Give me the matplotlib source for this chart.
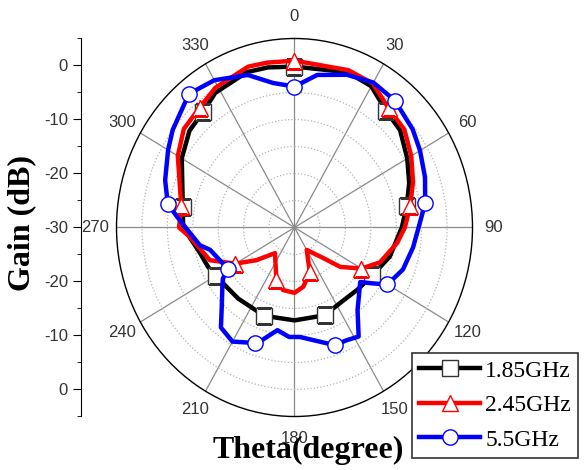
import numpy as np
import matplotlib
matplotlib.use('Agg')
import matplotlib.pyplot as plt
from matplotlib.ticker import FixedLocator

# angle (deg, clockwise from top) and gain (dB)
theta_185 = [0, 20, 30, 40, 49, 60, 70, 80, 90, 106, 120, 133, 147, 160, 180, 200, 220,
             240, 247, 256, 270, 280, 300, 311, 320, 328, 342, 350]
gain_185 = [-0.2, 0.6, 0.2, -1.9, -2.5, -4.4, -6.0, -7.6, -8.9, -10.5, -12.3, -13.1, -13.4,
            -12.7, -12.8, -12.6, -12.8, -12.1, -11.5, -10.8, -8.1, -7.7, -4.4, -2.65, -2.05,
            -0.6, 0.26, 0.1]

theta_245 = [0, 20, 30, 40, 50, 60, 70, 80, 90, 98, 111, 120, 129, 135, 150, 160, 171, 180,
             191, 200, 219, 231, 240, 250, 265, 270, 280, 300, 310, 320, 329, 343, 350]
gain_245 = [0.9, 1.0, 0.8, -1.2, -1.8, -3.5, -5.2, -6.9, -8.3, -9.6, -12.0, -14.8, -18.4,
            -22.0, -25.2, -21.2, -18.9, -17.9, -18.2, -19.6, -23.9, -20.4, -16.6, -12.3,
            -9.4, -7.3, -7.4, -3.5, -1.6, -1.0, 0.2, 1.15, 1.0]

theta_55 = [0, 9, 20, 30, 40, 52, 60, 70, 80, 90, 99, 110, 120, 124, 128, 141, 148, 154, 160,
            177, 183, 190, 197, 200, 210, 218, 224, 232, 236, 240, 256, 260, 269, 275, 280,
            289, 300, 307, 320, 330, 342, 351]
gain_55 = [-3.9, -1.4, 0.1, 1.0, 0.7, -0.5, -1.5, -2.7, -3.9, -5.6, -6.4, -7.3, -8.9, -11.5,
           -13.6, -10.3, -6.2, -6.75, -6.8, -9.7, -9.7, -10.7, -8.2, -7.25, -5.6, -6.5, -9.4,
           -12.0, -13.0, -14.8, -12.9, -11.1, -8.9, -6.8, -4.7, -3.1, -1.3, 0.0, 2.3, 1.5,
           -0.3, -2.9]

marker_angles = list(range(0, 360, 40))
angle_labels = [str(a) for a in range(0, 360, 30)]
gain_ticks = [-30, -20, -10, 0, 10, 20, 30]
gain_labels = ['0', '-10', '-20', '-30', '-20', '-10', '0']

W, H = 585, 470
fig = plt.figure(figsize=(W / 100, H / 100), dpi=100)

# polar area (Origin draws it slightly squashed horizontally)
ax = fig.add_axes([116.5 / W, 1 - 416.5 / H, 356 / W, 378 / H], projection='polar')
ax.set_aspect('auto')
ax.set_theta_zero_location('N')
ax.set_theta_direction(-1)
ax.set_rlim(-30, 5)
ax.set_rticks([-25, -20, -15, -10, -5, 0])
ax.set_yticklabels([])
ax.yaxis.grid(True, ls=':', color='#b4b4b4', lw=0.9)
ax.set_thetagrids(range(0, 360, 30), labels=angle_labels,
                  fontsize=12, family='Liberation Sans', color='#333333')
ax.xaxis.grid(True, ls='-', color='#8a8a8a', lw=0.9)
ax.xaxis.set_minor_locator(FixedLocator(np.deg2rad(np.arange(0, 360, 10))))
ax.tick_params(axis='x', which='major', direction='inout', length=7, width=0.8, pad=5)
ax.tick_params(axis='x', which='minor', direction='out', length=3, width=0.8)
ax.spines['polar'].set_linewidth(1.0)


def draw(th, g, color, marker, label, z):
    t = list(th) + [th[0] + 360]
    r = list(g) + [g[0]]
    mk = [t.index(a) for a in marker_angles]
    return ax.plot(np.deg2rad(t), r, color=color, lw=3.2, marker=marker, markersize=11,
                   markerfacecolor='white', markeredgecolor=color if color != 'black' else '#333333',
                   markeredgewidth=1.0, markevery=mk, label=label, zorder=z)[0]


l1 = draw(theta_185, gain_185, 'black', 's', '1.85GHz', 3)
l2 = draw(theta_245, gain_245, '#ff0000', '^', '2.45GHz', 4)
l3 = draw(theta_55, gain_55, '#0000ff', 'o', '5.5GHz', 5)

# left gain axis
lax = fig.add_axes([80.5 / W, 1 - 416.5 / H, 0.001, 378 / H])
lax.patch.set_visible(False)
for s in ['top', 'right', 'bottom']:
    lax.spines[s].set_visible(False)
lax.set_xticks([])
lax.set_ylim(-35, 35)
lax.set_yticks(gain_ticks)
lax.set_yticklabels(gain_labels, fontsize=12, family='Liberation Sans', color='#333333')
lax.yaxis.set_minor_locator(FixedLocator([-35, -25, -15, -5, 5, 15, 25, 35]))
lax.tick_params(axis='y', which='major', length=6, direction='out', pad=3)
lax.tick_params(axis='y', which='minor', length=3, direction='out')

fig.text(22 / W, 1 - 223 / H, 'Gain (dB)', rotation=90, ha='center', va='center',
         fontsize=23, fontweight='bold', family='Liberation Serif')
fig.text(308 / W, 1 - 450 / H, 'Theta(degree)', ha='center', va='center',
         fontsize=23, fontweight='bold', family='Liberation Serif', zorder=10)

leg = fig.legend(handles=[l1, l2, l3], loc='upper left',
                 bbox_to_anchor=(412 / W, 1 - 353 / H), borderaxespad=0,
                 prop={'family': 'Liberation Serif', 'size': 17},
                 fancybox=False, edgecolor='#333333', framealpha=1,
                 borderpad=0.3, labelspacing=0.55, handlelength=2.6, handletextpad=0.2)
leg.get_frame().set_linewidth(1.2)

fig.savefig('out.png', dpi=100)
